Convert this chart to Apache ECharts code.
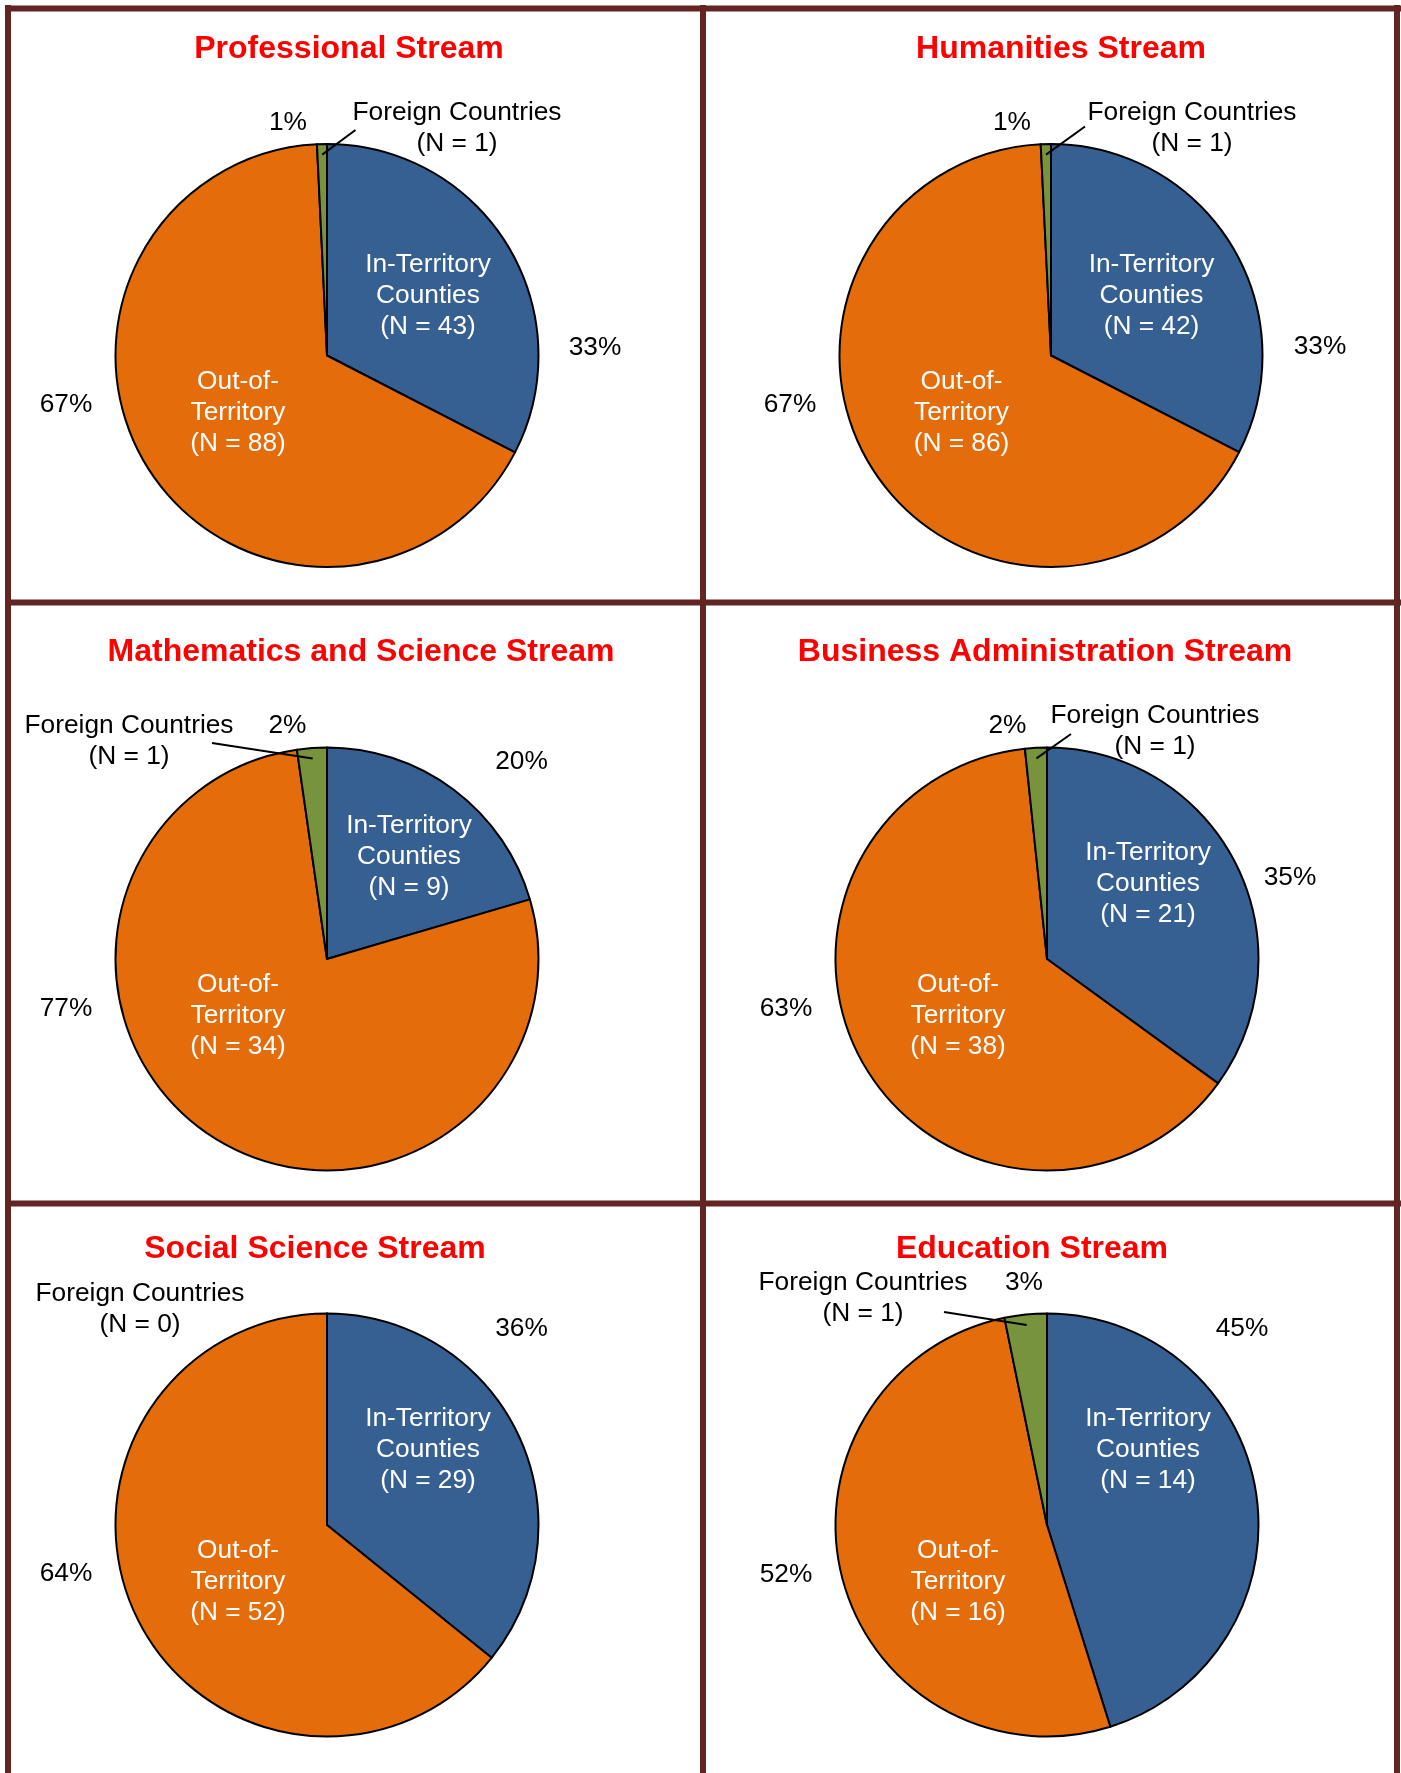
<!DOCTYPE html>
<html>
<head>
<meta charset="utf-8">
<script src="https://cdn.jsdelivr.net/npm/echarts@6/dist/echarts.min.js"></script>
<style>
html,body{margin:0;padding:0;background:#fff;}
#main{width:1401px;height:1773px;}
</style>
</head>
<body>
<div id="main"></div>
<script>
// chart data
var streams = ['Professional Stream', 'Humanities Stream', 'Mathematics and Science Stream',
  'Business Administration Stream', 'Social Science Stream', 'Education Stream'];
var categories = ['In-Territory\nCounties', 'Out-of-\nTerritory', 'Foreign Countries'];
var inTerritory = [43, 42, 9, 21, 29, 14];
var outTerritory = [88, 86, 34, 38, 52, 16];
var foreign = [1, 1, 1, 1, 0, 1];

var colors = ['#376092', '#E46C0A', '#77933C'];
var borderColor = '#632523';
var font = "'Liberation Sans', Arial, sans-serif";

// where each panel sits (pie centre, title, label offsets from the pie centre)
var panels = [
  {cx: 327, cy: 355.5, title: [349, 49.5],
    nameLbl: [[101, -60], [-89, 57.5], [130, -227.5]], lineFrom: [28.5, -225.5],
    pctLbl: [[268, -8], [-261, 49], [-39, -233]]},
  {cx: 1051, cy: 355.5, title: [1061, 49.5],
    nameLbl: [[100.5, -60], [-89.5, 57.5], [141, -227.5]], lineFrom: [34, -229],
    pctLbl: [[269, -8.5], [-261, 49], [-39, -233]]},
  {cx: 327, cy: 959, title: [361, 652.5],
    nameLbl: [[82, -102], [-89, 57], [-198, -218]], lineFrom: [-115, -216],
    pctLbl: [[194.5, -197.5], [-261, 49.5], [-39.5, -233.5]]},
  {cx: 1047, cy: 959, title: [1045, 652.5],
    nameLbl: [[101, -75], [-89, 57], [108, -227.5]], lineFrom: [24, -225],
    pctLbl: [[243, -81], [-261, 49.5], [-39.5, -233.5]]},
  {cx: 327, cy: 1525, title: [315, 1249.5],
    nameLbl: [[101, -75.5], [-89, 57], [-187, -215.5]], lineFrom: null,
    pctLbl: [[194.5, -196.5], [-261, 49], null]},
  {cx: 1047, cy: 1525, title: [1032, 1249.5],
    nameLbl: [[101, -75.5], [-89, 57], [-184, -227]], lineFrom: [-103, -213],
    pctLbl: [[195, -196.5], [-261, 49.5], [-23, -242]]}
];
var radius = 211.5;

var chart = echarts.init(document.getElementById('main'), null, {renderer: 'canvas'});

function makeLayout(k, which) {
  var p = panels[k];
  return function (params) {
    var i = params.dataIndex;
    var off = which === 'pct' ? p.pctLbl[i] : p.nameLbl[i];
    if (!off) return {};
    var res = {x: p.cx + off[0], y: p.cy + off[1], align: 'center', verticalAlign: 'middle'};
    if (which === 'foreign' && p.lineFrom) {
      // leader line from the label down into the small slice
      var total = inTerritory[k] + outTerritory[k] + foreign[k];
      var a = 2 * Math.PI - Math.PI * foreign[k] / total;
      var ex = p.cx + radius * 0.95 * Math.sin(a);
      var ey = p.cy - radius * 0.95 * Math.cos(a);
      var sx = p.cx + p.lineFrom[0], sy = p.cy + p.lineFrom[1];
      res.labelLinePoints = [[ex, ey], [sx, sy], [sx, sy]];
    }
    return res;
  };
}

var series = [];
var titles = [];
streams.forEach(function (s, k) {
  var p = panels[k];
  var vals = [inTerritory[k], outTerritory[k], foreign[k]];
  var total = vals[0] + vals[1] + vals[2];

  titles.push({
    text: s, left: p.title[0], top: p.title[1], padding: 0,
    textAlign: 'center', textVerticalAlign: 'middle',
    textStyle: {color: '#FF0000', fontSize: 32, fontWeight: 'bold', fontFamily: font}
  });

  var base = {
    type: 'pie', center: [p.cx, p.cy], radius: radius,
    startAngle: 90, clockwise: true, avoidLabelOverlap: false,
    animation: false, silent: true
  };

  // the slices, with the white labels inside
  series.push(Object.assign({}, base, {
    z: 2,
    itemStyle: {borderColor: '#000', borderWidth: 2},
    label: {position: 'inside', fontFamily: font, fontSize: 26.3, lineHeight: 31, color: '#fff'},
    labelLine: {show: false},
    labelLayout: makeLayout(k, 'name'),
    data: vals.map(function (v, i) {
      return {
        value: v, name: categories[i].replace('\n', ' '),
        itemStyle: {color: colors[i]},
        label: {show: i < 2, formatter: categories[i] + '\n(N = ' + v + ')'}
      };
    })
  }));

  // same pie again, transparent, carrying the percentages
  series.push(Object.assign({}, base, {
    z: 3,
    itemStyle: {color: 'rgba(0,0,0,0)', borderWidth: 0},
    label: {position: 'outside', fontFamily: font, fontSize: 26.3, color: '#000'},
    labelLine: {show: false},
    labelLayout: makeLayout(k, 'pct'),
    data: vals.map(function (v, i) {
      return {
        value: v, name: 'pct' + i,
        label: {show: v > 0, formatter: Math.round(v / total * 100) + '%'}
      };
    })
  }));

  // and once more for the foreign label with its leader line on top
  series.push(Object.assign({}, base, {
    z: 4,
    itemStyle: {color: 'rgba(0,0,0,0)', borderWidth: 0},
    label: {position: 'outside', fontFamily: font, fontSize: 26.3, lineHeight: 31, color: '#000'},
    labelLine: {show: !!p.lineFrom, lineStyle: {color: '#000', width: 2}},
    labelLayout: makeLayout(k, 'foreign'),
    data: vals.map(function (v, i) {
      return {
        value: v, name: 'f' + i,
        label: {show: i === 2, formatter: categories[i] + '\n(N = ' + v + ')'},
        labelLine: {show: i === 2 && !!p.lineFrom}
      };
    })
  }));
});

// panel frame
var lw = 6;
var frame = [
  [8, 5, 8, 1773], [1397, 5, 1397, 1773], [703, 5, 703, 1773],
  [5, 8.5, 1401, 8.5], [5, 602.5, 1401, 602.5], [5, 1203.5, 1401, 1203.5]
];

var option = {
  backgroundColor: '#fff',
  title: titles,
  graphic: frame.map(function (f) {
    return {type: 'line', silent: true, z: 10,
      shape: {x1: f[0], y1: f[1], x2: f[2], y2: f[3]},
      style: {stroke: borderColor, lineWidth: lw}};
  }),
  series: series
};
chart.setOption(option, true);
</script>
</body>
</html>
